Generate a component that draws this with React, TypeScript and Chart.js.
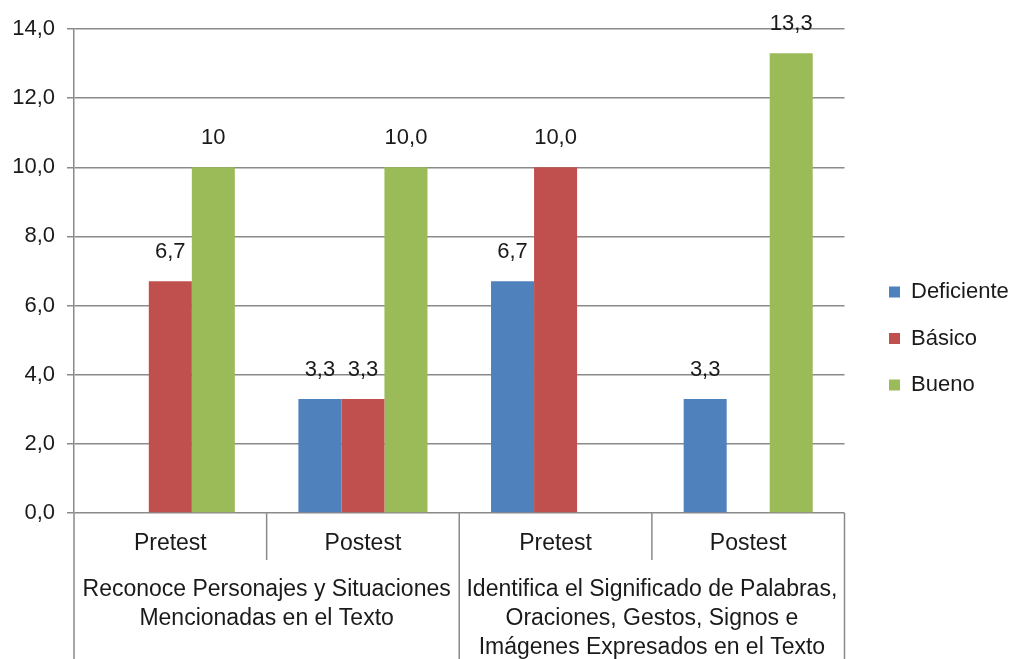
import React, { useEffect, useRef } from 'react';
import { Chart, registerables } from 'chart.js';

Chart.register(...registerables);

const SUBCATEGORIES = ['Pretest', 'Postest', 'Pretest', 'Postest'];
const GROUPS = [
  ['Reconoce Personajes y Situaciones', 'Mencionadas en el Texto'],
  ['Identifica el Significado de Palabras,', 'Oraciones, Gestos, Signos e', 'Imágenes Expresados en el Texto'],
];
const SERIES_NAMES = ['Deficiente', 'Básico', 'Bueno'];
const DEFICIENTE = [0, 3.3, 6.7, 3.3];
const BASICO = [6.7, 3.3, 10.0, 0];
const BUENO = [10, 10.0, 0, 13.3];
const DEFICIENTE_LABELS = ['', '3,3', '6,7', '3,3'];
const BASICO_LABELS = ['6,7', '3,3', '10,0', ''];
const BUENO_LABELS = ['10', '10,0', '', '13,3'];
const COLORS = ['#4F81BD', '#C0504D', '#9BBB59'];
const Y_MIN = 0;
const Y_MAX = 14;
const Y_STEP = 2;

const FONT = "'Liberation Sans', Arial, sans-serif";
const GRID = '#8a8a8a';
const TEXT = '#1a1a1a';
const VALUE_LABELS = [DEFICIENTE_LABELS, BASICO_LABELS, BUENO_LABELS];

const dataLabelPlugin = {
  id: 'dataLabels',
  afterDatasetsDraw(chart: any) {
    const ctx = chart.ctx;
    ctx.save();
    ctx.font = `22px ${FONT}`;
    ctx.fillStyle = TEXT;
    ctx.textAlign = 'center';
    ctx.textBaseline = 'middle';
    chart.data.datasets.forEach((_ds: any, di: number) => {
      const meta = chart.getDatasetMeta(di);
      meta.data.forEach((bar: any, i: number) => {
        const t = VALUE_LABELS[di][i];
        if (!t) return;
        ctx.fillText(t, bar.x, bar.y - 29);
      });
    });
    ctx.restore();
  },
};

const separatorPlugin = {
  id: 'separators',
  afterDraw(chart: any) {
    const x = chart.scales.x;
    const ctx = chart.ctx;
    const n = SUBCATEGORIES.length;
    const step = (x.right - x.left) / n;
    ctx.save();
    ctx.strokeStyle = GRID;
    ctx.lineWidth = 1.5;
    for (let i = 0; i <= n; i++) {
      const px = x.left + step * i;
      const y1 = i % 2 === 0 ? chart.height : x.bottom;
      ctx.beginPath();
      ctx.moveTo(px, x.top);
      ctx.lineTo(px, y1);
      ctx.stroke();
    }
    ctx.restore();
  },
};

export default function App() {
  const ref = useRef<HTMLCanvasElement | null>(null);

  useEffect(() => {
    if (!ref.current) return;
    const chart = new Chart(ref.current, {
      type: 'bar',
      data: {
        labels: SUBCATEGORIES,
        datasets: [
          { label: SERIES_NAMES[0], data: DEFICIENTE, backgroundColor: COLORS[0] },
          { label: SERIES_NAMES[1], data: BASICO, backgroundColor: COLORS[1] },
          { label: SERIES_NAMES[2], data: BUENO, backgroundColor: COLORS[2] },
        ],
      },
      options: {
        responsive: false,
        animation: false,
        layout: { padding: { top: 18, bottom: 0, left: 0, right: 0 } },
        datasets: { bar: { categoryPercentage: 0.67, barPercentage: 1 } },
        plugins: {
          tooltip: { enabled: false },
          legend: {
            position: 'right',
            align: 'center',
            maxWidth: 145.5,
            labels: {
              boxWidth: 11,
              boxHeight: 11,
              padding: 24.5,
              color: TEXT,
              font: { size: 22, family: FONT },
            },
          },
        },
        scales: {
          x: {
            type: 'category',
            offset: true,
            grid: { display: false, drawTicks: false },
            border: { display: false },
            ticks: {
              color: TEXT,
              font: { size: 23, family: FONT },
              padding: 17,
              maxRotation: 0,
              autoSkip: false,
            },
            afterFit: (s: any) => {
              s.height = 47;
            },
          },
          x2: {
            type: 'category',
            labels: GROUPS as any,
            position: 'bottom',
            offset: true,
            weight: 1,
            grid: { display: false, drawTicks: false },
            border: { display: false },
            ticks: {
              color: TEXT,
              font: { size: 23, family: FONT, lineHeight: 1.26 },
              padding: 15,
              maxRotation: 0,
              autoSkip: false,
            },
            afterFit: (s: any) => {
              s.height = 99;
            },
          },
          xTopSpace: {
            type: 'category',
            labels: [''],
            position: 'top',
            display: true,
            grid: { display: false, drawTicks: false },
            border: { display: false },
            ticks: { display: false },
            afterFit: (s: any) => {
              s.height = 11;
            },
          },
          y: {
            min: Y_MIN,
            max: Y_MAX,
            ticks: {
              stepSize: Y_STEP,
              color: TEXT,
              font: { size: 22, family: FONT },
              padding: 12,
              callback: (v: any) => Number(v).toFixed(1).replace('.', ','),
            },
            grid: { color: GRID, lineWidth: 1.5, tickLength: 7 },
            border: { display: true, color: GRID, width: 1.5 },
            afterFit: (s: any) => {
              s.width = 74;
            },
          },
          y2: {
            position: 'right',
            display: true,
            grid: { display: false, drawTicks: false },
            border: { display: false },
            ticks: { display: false },
            afterFit: (s: any) => {
              s.width = 20;
            },
          },
        },
      } as any,
      plugins: [dataLabelPlugin, separatorPlugin],
    });
    return () => chart.destroy();
  }, []);

  return (
    <div style={{ position: 'absolute', left: 0, top: 0, width: 1010, height: 659, background: '#fff' }}>
      <canvas ref={ref} width={1010} height={659} />
    </div>
  );
}
